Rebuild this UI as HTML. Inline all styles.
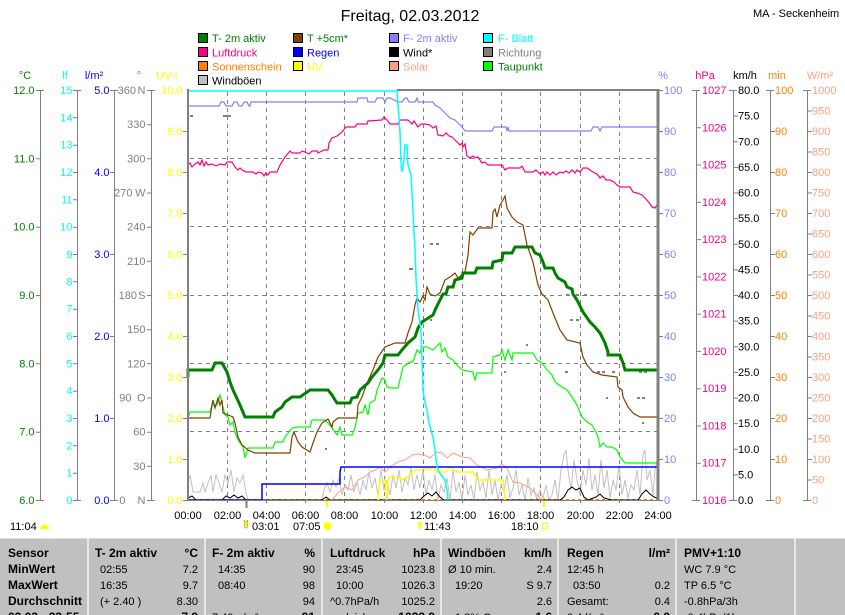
<!DOCTYPE html>
<html><head><meta charset="utf-8"><style>
html,body{margin:0;padding:0;background:#fff;}
svg{display:block;}
text{font-family:"Liberation Sans",sans-serif;font-size:11px;}
.b{font-weight:bold;font-size:12px;}
</style></head><body>
<svg width="845" height="615" viewBox="0 0 845 615" xmlns="http://www.w3.org/2000/svg">
<rect width="845" height="615" fill="#fff"/>
<!-- title -->
<text x="410" y="21" text-anchor="middle" style="font-size:16px">Freitag, 02.03.2012</text>
<text x="753" y="17">MA - Seckenheim</text>

<!-- legend -->
<g stroke="#000" stroke-width="1">
<rect x="198.5" y="33.5" width="9" height="9" fill="#008000"/>
<rect x="198.5" y="47.5" width="9" height="9" fill="#ff0080"/>
<rect x="198.5" y="61.5" width="9" height="9" fill="#ff8000"/>
<rect x="198.5" y="75.5" width="9" height="9" fill="#c0c0c0"/>
<rect x="293.5" y="33.5" width="9" height="9" fill="#804000"/>
<rect x="293.5" y="47.5" width="9" height="9" fill="#0000ff"/>
<rect x="293.5" y="61.5" width="9" height="9" fill="#ffff00"/>
<rect x="389.5" y="33.5" width="9" height="9" fill="#8080ff"/>
<rect x="389.5" y="47.5" width="9" height="9" fill="#000"/>
<rect x="389.5" y="61.5" width="9" height="9" fill="#ffa080"/>
<rect x="483.5" y="33.5" width="9" height="9" fill="#00ffff"/>
<rect x="483.5" y="47.5" width="9" height="9" fill="#808080"/>
<rect x="483.5" y="61.5" width="9" height="9" fill="#00ff00"/>
</g>
<text x="212" y="42" fill="#008000">T- 2m aktiv</text>
<text x="212" y="56.5" fill="#ff0080">Luftdruck</text>
<text x="212" y="70.5" fill="#ff8000">Sonnenschein</text>
<text x="212" y="84.5" fill="#000">Windböen</text>
<text x="307" y="42" fill="#008000">T +5cm*</text>
<text x="307" y="56.5" fill="#0000ff">Regen</text>
<text x="307" y="70.5" fill="#ffff00">UV</text>
<text x="403" y="42" fill="#8080ff">F- 2m aktiv</text>
<text x="403" y="56.5" fill="#000">Wind*</text>
<text x="403" y="70.5" fill="#ffa080">Solar</text>
<text x="498" y="42" fill="#00ffff">F- Blatt</text>
<text x="498" y="56.5" fill="#808080">Richtung</text>
<text x="498" y="70.5" fill="#008000">Taupunkt</text>

<!-- unit labels -->
<g text-anchor="middle">
<text x="25" y="79" fill="#008000">°C</text>
<text x="65" y="79" fill="#00ffff">lf</text>
<text x="94" y="79" fill="#0000ff">l/m²</text>
<text x="139" y="79" fill="#808080">°</text>
<text x="167" y="79" fill="#ffff00">UV-I</text>
<text x="663" y="79" fill="#8080ff">%</text>
<text x="705" y="79" fill="#ff0080">hPa</text>
<text x="745" y="79" fill="#000">km/h</text>
<text x="777" y="79" fill="#ff8000">min</text>
<text x="820" y="79" fill="#ffa080">W/m²</text>
</g>

<!-- axis lines -->
<g stroke="#808080" stroke-width="1" fill="none">
<path d="M40.5 90V500M36 90.5H44M36 500.5H44"/>
<path d="M77.5 90V500M73 90.5H81M73 500.5H81"/>
<path d="M114.5 90V500M110 90.5H118M110 500.5H118"/>
<path d="M151.5 90V500M147 90.5H155M147 500.5H155"/>
<path d="M696.5 90V500M692 90.5H700M692 500.5H700"/>
<path d="M733.5 90V500M729 90.5H737M729 500.5H737"/>
<path d="M770.5 90V500M766 90.5H774M766 500.5H774"/>
<path d="M807.5 90V500M803 90.5H811M803 500.5H811"/>
<!-- left ticks -->
<path d="M36 158.8H40M36 227.2H40M36 295.5H40M36 363.8H40M36 432.2H40"/>
<path d="M73 117.8H77M73 145.2H77M73 172.5H77M73 199.8H77M73 227.2H77M73 254.5H77M73 281.8H77M73 309.2H77M73 336.5H77M73 363.8H77M73 391.2H77M73 418.5H77M73 445.8H77M73 473.2H77"/>
<path d="M110 172.5H114M110 254.5H114M110 336.5H114M110 418.5H114"/>
<path d="M147 124.7H151M147 158.8H151M147 193H151M147 227.2H151M147 261.3H151M147 295.5H151M147 329.7H151M147 363.8H151M147 398H151M147 432.2H151M147 466.3H151"/>
<path d="M183 131.5H187M183 172.5H187M183 213.5H187M183 254.5H187M183 295.5H187M183 336.5H187M183 377.5H187M183 418.5H187M183 459.5H187M183 500.5H187"/>
<!-- right ticks -->
<path d="M659 90.5H663M659 131.5H663M659 172.5H663M659 213.5H663M659 254.5H663M659 295.5H663M659 336.5H663M659 377.5H663M659 418.5H663M659 459.5H663M659 500.5H663"/>
<path d="M697 127.8H701M697 165H701M697 202.3H701M697 239.6H701M697 276.9H701M697 314.1H701M697 351.4H701M697 388.7H701M697 426H701M697 463.2H701"/>
<path d="M734 116.1H738M734 141.8H738M734 167.4H738M734 193H738M734 218.6H738M734 244.3H738M734 269.9H738M734 295.5H738M734 321.1H738M734 346.8H738M734 372.4H738M734 398H738M734 423.6H738M734 449.3H738M734 474.9H738"/>
<path d="M771 131.5H775M771 172.5H775M771 213.5H775M771 254.5H775M771 295.5H775M771 336.5H775M771 377.5H775M771 418.5H775M771 459.5H775"/>
<path d="M808 111H812M808 131.5H812M808 152H812M808 172.5H812M808 193H812M808 213.5H812M808 234H812M808 254.5H812M808 275H812M808 295.5H812M808 316H812M808 336.5H812M808 357H812M808 377.5H812M808 398H812M808 418.5H812M808 439H812M808 459.5H812M808 480H812"/>
</g>

<!-- left axis labels -->
<g text-anchor="end" fill="#008000">
<text x="34.5" y="94">12.0</text><text x="34.5" y="162.3">11.0</text><text x="34.5" y="230.7">10.0</text><text x="34.5" y="299">9.0</text><text x="34.5" y="367.3">8.0</text><text x="34.5" y="435.7">7.0</text><text x="34.5" y="504">6.0</text>
</g>
<g text-anchor="end" fill="#00ffff">
<text x="72.5" y="94">15</text><text x="72.5" y="121.3">14</text><text x="72.5" y="148.7">13</text><text x="72.5" y="176">12</text><text x="72.5" y="203.3">11</text><text x="72.5" y="230.7">10</text><text x="72.5" y="258">9</text><text x="72.5" y="285.3">8</text><text x="72.5" y="312.7">7</text><text x="72.5" y="340">6</text><text x="72.5" y="367.3">5</text><text x="72.5" y="394.7">4</text><text x="72.5" y="422">3</text><text x="72.5" y="449.3">2</text><text x="72.5" y="476.7">1</text><text x="72.5" y="504">0</text>
</g>
<g text-anchor="end" fill="#0000ff">
<text x="109.5" y="94">5.0</text><text x="109.5" y="176">4.0</text><text x="109.5" y="258">3.0</text><text x="109.5" y="340">2.0</text><text x="109.5" y="422">1.0</text><text x="109.5" y="504">0.0</text>
</g>
<g text-anchor="end" fill="#808080">
<text x="136" y="94">360</text><text x="145.5" y="94">N</text>
<text x="145.5" y="128.2">330</text>
<text x="145.5" y="162.3">300</text>
<text x="132.5" y="196.5">270</text><text x="145.5" y="196.5">W</text>
<text x="145.5" y="230.7">240</text>
<text x="145.5" y="264.8">210</text>
<text x="137" y="299">180</text><text x="145.5" y="299">S</text>
<text x="145.5" y="333.2">150</text>
<text x="145.5" y="367.3">120</text>
<text x="131.5" y="401.5">90</text><text x="145.5" y="401.5">O</text>
<text x="145.5" y="435.7">60</text>
<text x="145.5" y="469.8">30</text>
<text x="125.5" y="504">0</text><text x="145.5" y="504">N</text>
</g>
<g text-anchor="end" fill="#ffff00">
<text x="182.5" y="94">10.0</text><text x="182.5" y="135">9.0</text><text x="182.5" y="176">8.0</text><text x="182.5" y="217">7.0</text><text x="182.5" y="258">6.0</text><text x="182.5" y="299">5.0</text><text x="182.5" y="340">4.0</text><text x="182.5" y="381">3.0</text><text x="182.5" y="422">2.0</text><text x="182.5" y="463">1.0</text><text x="182.5" y="504">0.0</text>
</g>
<!-- right axis labels -->
<g fill="#8080ff">
<text x="664" y="94">100</text><text x="664" y="135">90</text><text x="664" y="176">80</text><text x="664" y="217">70</text><text x="664" y="258">60</text><text x="664" y="299">50</text><text x="664" y="340">40</text><text x="664" y="381">30</text><text x="664" y="422">20</text><text x="664" y="463">10</text><text x="664" y="504">0</text>
</g>
<g fill="#ff0080">
<text x="702" y="94">1027</text><text x="702" y="131.3">1026</text><text x="702" y="168.5">1025</text><text x="702" y="205.8">1024</text><text x="702" y="243.1">1023</text><text x="702" y="280.4">1022</text><text x="702" y="317.6">1021</text><text x="702" y="354.9">1020</text><text x="702" y="392.2">1019</text><text x="702" y="429.5">1018</text><text x="702" y="466.7">1017</text><text x="702" y="504">1016</text>
</g>
<g fill="#000">
<text x="738" y="94">80.0</text><text x="738" y="119.6">75.0</text><text x="738" y="145.3">70.0</text><text x="738" y="170.9">65.0</text><text x="738" y="196.5">60.0</text><text x="738" y="222.1">55.0</text><text x="738" y="247.8">50.0</text><text x="738" y="273.4">45.0</text><text x="738" y="299">40.0</text><text x="738" y="324.6">35.0</text><text x="738" y="350.3">30.0</text><text x="738" y="375.9">25.0</text><text x="738" y="401.5">20.0</text><text x="738" y="427.1">15.0</text><text x="738" y="452.8">10.0</text><text x="738" y="478.4">5.0</text><text x="738" y="504">0.0</text>
</g>
<g fill="#ff8000">
<text x="775" y="94">100</text><text x="775" y="135">90</text><text x="775" y="176">80</text><text x="775" y="217">70</text><text x="775" y="258">60</text><text x="775" y="299">50</text><text x="775" y="340">40</text><text x="775" y="381">30</text><text x="775" y="422">20</text><text x="775" y="463">10</text><text x="775" y="504">0</text>
</g>
<g fill="#ffa080">
<text x="812" y="94">1000</text><text x="812" y="114.5">950</text><text x="812" y="135">900</text><text x="812" y="155.5">850</text><text x="812" y="176">800</text><text x="812" y="196.5">750</text><text x="812" y="217">700</text><text x="812" y="237.5">650</text><text x="812" y="258">600</text><text x="812" y="278.5">550</text><text x="812" y="299">500</text><text x="812" y="319.5">450</text><text x="812" y="340">400</text><text x="812" y="360.5">350</text><text x="812" y="381">300</text><text x="812" y="401.5">250</text><text x="812" y="422">200</text><text x="812" y="442.5">150</text><text x="812" y="463">100</text><text x="812" y="483.5">50</text><text x="812" y="504">0</text>
</g>

<!-- grid -->
<g stroke="#808080" stroke-width="1" stroke-dasharray="4,4" fill="none">
<path d="M227.5 92V500M266.5 92V500M305.5 92V500M344.5 92V500M384.5 92V500M423.5 92V500M462.5 92V500M501.5 92V500M540.5 92V500M580.5 92V500M619.5 92V500"/>
<path d="M190 158.5H657M190 226.5H657M190 295.5H657M190 363.5H657M190 431.5H657"/>
</g>
<!-- bottom ticks -->
<g stroke="#808080" stroke-width="1">
<path d="M227.5 500V503M266.5 500V503M305.5 500V503M344.5 500V503M384.5 500V503M423.5 500V503M462.5 500V503M501.5 500V503M540.5 500V503M580.5 500V503M619.5 500V503"/>
<path d="M246.5 500V508" stroke-width="2"/>
</g>
<path d="M327 497V507M544 497V507" stroke="#ffff00" stroke-width="2"/>

<!-- Richtung dots -->
<g fill="#808080">
<rect x="190" y="115" width="3" height="2"/><rect x="223" y="115" width="8" height="2"/>
<rect x="409" y="268" width="4" height="2"/><rect x="430" y="243" width="3" height="2"/><rect x="436" y="243" width="3" height="2"/>
<rect x="325" y="448" width="2" height="2"/><rect x="430" y="319" width="2" height="2"/>
<rect x="566" y="294" width="3" height="2"/><rect x="576" y="294" width="3" height="2"/><rect x="584" y="294" width="3" height="2"/>
<rect x="570" y="319" width="3" height="2"/><rect x="576" y="319" width="3" height="2"/>
<rect x="526" y="344" width="2" height="2"/><rect x="504" y="371" width="2" height="2"/>
<rect x="565" y="371" width="3" height="2"/><rect x="597" y="371" width="3" height="2"/><rect x="602" y="371" width="3" height="2"/><rect x="612" y="371" width="3" height="2"/>
<rect x="639" y="371" width="3" height="2"/><rect x="644" y="371" width="3" height="2"/>
<rect x="606" y="397" width="2" height="2"/><rect x="637" y="397" width="3" height="2"/><rect x="642" y="397" width="3" height="2"/><rect x="642" y="422" width="2" height="2"/>
</g>

<!-- Series -->
<g fill="none" stroke-linejoin="miter">
<!-- Windboeen gray -->
<polyline stroke="#c0c0c0" stroke-width="1" points="188,483 190,475 193,492 197,492 200,492 203,483 205,492 208,483 211,475 213,492 216,475 219,483 222,492 225,475 228,483 231,470 234,492 237,478 240,483 243,475 246,492 248,500 322,500 324,490 327,483 330,492 333,480 336,487 339,478 342,495 345,485 348,490 351,475 354,492 357,482 360,495 363,480 366,490 369,472 372,488 375,478 378,495 381,470 384,490 387,480 390,495 393,475 396,488 399,470 402,492 405,478 408,485 411,468 414,490 417,475 420,488 423,470 426,495 429,480 432,490 435,475 438,500 441,485 444,492 447,478 450,500 453,470 456,492 459,482 462,500 465,475 468,495 471,485 474,500 477,472 480,490 483,482 486,498 489,470 492,495 495,480 498,500 501,485 504,492 507,475 510,498 513,488 516,470 519,495 522,485 525,500 528,478 531,495 534,488 537,500 540,490 543,498 546,485 549,500 552,495 555,480 558,500 561,470 564,455 566,450 568,470 571,490 574,460 577,480 580,495 583,470 586,485 589,458 592,490 595,475 598,495 601,460 604,488 607,470 610,498 613,480 616,490 619,465 622,495 625,480 628,498 631,485 634,490 637,470 640,495 643,455 645,450 647,480 650,470 653,495 655,470 657,460"/>
<!-- Sonnenschein -->
<path d="M188 499.5H657" stroke="#ff8000" stroke-width="1" stroke-dasharray="3,3"/>
<!-- Wind black -->
<polyline stroke="#000" stroke-width="1" points="188,498 192,496 196,500 222,500 226,496 230,498 234,495 238,498 242,496 246,500 322,500 326,497 330,500 420,500 424,496 428,493 432,496 436,492 440,497 444,500 560,500 564,497 568,490 572,487 576,490 580,488 584,497 588,500 596,497 600,494 604,498 612,500 638,500 642,494 646,490 650,494 654,497 657,498"/>
<!-- Solar -->
<polyline stroke="#ffa080" stroke-width="1" points="332,500 338,493 345,487 352,490 358,480 365,477 370,472 375,470 380,467 385,472 390,467 398,462 405,460 412,455 418,454 425,455 430,458 437,452 442,453 447,458 453,453 462,457 470,458 477,465 487,470 497,468 502,464 507,468 513,482 520,483 530,488 537,495 543,500"/>
<!-- UV -->
<polyline stroke="#ffff00" stroke-width="1.5" points="378,500 380,480 385,480 387,500 388,480 390,477 398,477 402,480 405,478 408,477 412,472 415,470 420,470 425,468 430,470 433,467 437,472 445,472 450,467 457,472 473,472 478,480 503,480 505,500"/>
<!-- Regen -->
<polyline stroke="#0000ff" stroke-width="1.5" points="188,500 262,500 262,484 340,484 340,472 341,467 657,467"/>
<!-- Taupunkt -->
<polyline stroke="#00ff00" stroke-width="1.2" points="188,418 190,412 210,412 212,405 217,405 220,395 222,403 225,415 228,417 230,425 233,422 235,432 238,440 243,447 245,458 248,448 273,448 275,442 283,442 285,437 292,428 298,427 310,427 312,420 325,420 328,423 332,428 337,435 340,427 342,435 352,435 355,428 358,413 363,412 365,405 368,415 370,403 375,400 377,390 382,378 385,380 387,387 390,388 398,388 403,367 410,362 413,362 417,350 420,353 422,347 427,347 433,350 440,343 442,352 445,348 448,357 453,360 457,365 462,370 473,372 475,380 477,373 492,373 493,357 500,355 502,350 505,360 508,350 512,360 513,353 533,353 537,360 542,363 547,370 552,375 555,382 562,387 567,390 572,397 577,405 582,417 587,422 592,425 595,430 598,437 600,447 603,443 607,447 612,447 617,450 620,457 625,463 657,463"/>
<!-- T +5cm -->
<polyline stroke="#804000" stroke-width="1.2" points="188,418 210,418 212,405 213,400 215,408 218,398 220,405 222,400 223,413 233,417 235,423 238,437 242,445 248,450 255,453 290,453 292,437 294,432 298,442 302,447 310,452 313,443 317,432 322,423 328,419 332,427 333,422 338,418 357,418 358,405 362,397 367,383 373,370 378,357 385,347 395,343 405,343 408,333 412,322 415,305 417,298 420,302 423,296 425,300 427,287 430,294 435,296 440,293 445,280 450,277 455,273 458,278 462,275 465,272 468,255 470,232 473,235 478,228 492,228 493,212 495,209 497,217 500,205 503,200 505,196 507,208 512,217 517,222 523,225 527,245 533,262 538,285 542,294 548,300 555,318 560,330 567,340 580,343 583,357 587,365 593,372 602,375 617,377 618,387 622,390 623,397 628,407 633,413 640,417 657,417"/>
<!-- T-2m -->
<polyline stroke="#008000" stroke-width="3" points="188,377 188,370 212,370 215,363 222,363 227,372 230,382 233,390 240,405 245,417 273,417 275,412 282,407 285,402 292,397 300,397 310,390 328,390 332,395 335,400 337,403 350,403 352,398 357,397 360,390 368,383 372,377 378,370 383,363 385,355 398,355 402,350 408,343 415,337 418,328 422,322 433,315 436,308 439,302 443,294 446,294 448,287 453,287 455,280 462,278 463,273 475,273 477,268 492,268 493,262 502,260 503,253 512,253 515,247 532,247 535,253 540,255 543,262 545,268 553,268 555,273 558,278 565,282 567,287 572,289 573,294 577,300 583,312 590,322 595,327 600,333 605,343 608,352 608,355 620,355 623,363 625,370 657,370"/>
<!-- Luftdruck -->
<polyline stroke="#ff0080" stroke-width="1.2" points="188,165 190,163 192,167 195,164 198,162 200,165 202,160 204,166 206,162 208,165 212,164 216,166 220,164 225,165 227,162 232,162 235,167 238,170 240,168 242,170 246,172 253,172 256,174 258,172 262,173 264,176 266,173 268,175 270,172 277,172 280,165 285,157 290,151 292,153 300,153 302,151 305,152 309,154 312,151 317,151 318,153 320,152 324,150 328,150 329,143 332,138 337,136 342,132 346,127 355,127 357,124 367,124 368,121 382,120 384,117 387,120 390,124 398,124 400,120 408,120 412,124 414,121 418,127 421,124 425,124 430,125 433,128 436,126 438,135 443,136 446,133 449,136 452,137 455,140 460,145 462,143 463,147 465,144 467,156 470,158 473,156 475,158 478,157 482,163 485,162 488,165 502,165 505,170 508,168 520,168 522,166 525,172 533,172 536,170 540,174 543,172 545,175 547,172 550,175 553,172 556,175 560,172 563,173 566,171 569,173 572,170 575,173 577,170 580,172 583,168 587,168 590,170 593,172 597,174 600,178 603,176 606,180 610,180 614,182 617,185 620,187 630,187 633,192 637,193 642,195 645,198 647,200 650,204 652,207 655,208 657,205"/>
<!-- F-2m -->
<polyline stroke="#8080ff" stroke-width="1.2" points="188,106 219,106 221,102 224,102 226,106 232,106 234,102 237,102 239,106 242,106 244,102 247,102 249,106 250,106 251,102 357,102 358,98 367,98 368,102 375,102 377,98 383,98 385,102 387,98 390,98 398,102 402,102 405,98 407,98 409,102 415,102 417,98 418,102 433,102 435,105 440,108 445,113 450,118 455,120 458,123 462,127 465,131 492,131 494,127 506,127 507,131 508,127 509,131 591,131 593,127 598,127 600,131 602,127 657,127"/>
<!-- F-Blatt -->
<polyline stroke="#00ffff" stroke-width="1.5" points="188,91 397,91 400,132 401,163 402,172 404,160 405,145 407,145 408,165 411,175 412,192 413,212 414,232 415,248 416,278 417,295 418,310 421,330 423,390 425,403 427,410 429,423 433,437 435,450 437,467 439,472 445,480 447,490 448,500"/>
</g>

<!-- frame -->
<g stroke="#808080" fill="none">
<path d="M397 90H658" stroke-width="2"/>
<path d="M188 89V501" stroke-width="2"/>
<path d="M658 89V501" stroke-width="3"/>
<path d="M188 500.5H658" stroke-width="1"/>
</g>

<!-- time labels -->
<g text-anchor="middle" fill="#000">
<text x="188" y="519">00:00</text><text x="227.5" y="519">02:00</text><text x="266.5" y="519">04:00</text><text x="305.5" y="519">06:00</text><text x="344.5" y="519">08:00</text><text x="384.5" y="519">10:00</text><text x="423.5" y="519">12:00</text><text x="462.5" y="519">14:00</text><text x="501.5" y="519">16:00</text><text x="540.5" y="519">18:00</text><text x="580.5" y="519">20:00</text><text x="619.5" y="519">22:00</text><text x="658" y="519">24:00</text>
</g>
<text x="10" y="530">11:04</text>
<path d="M40 529A4.5 4.5 0 0 1 49 529Z" fill="#ffff00"/>
<text x="252" y="530">03:01</text>
<path d="M244 520L246 522 248 520 247 528 245 528Z" fill="#ffff00" stroke="#808000" stroke-width="0.5"/>
<text x="293" y="530">07:05</text>
<circle cx="327.5" cy="526" r="4" fill="#ffff00"/>
<text x="424" y="530">11:43</text>
<path d="M418 522L422 522 421 529 419 529Z" fill="#ffff00"/>
<text x="511" y="530">18:10</text>
<rect x="542.5" y="523.5" width="5" height="5" fill="none" stroke="#ffff00"/>

<!-- table -->
<rect x="0" y="538" width="845" height="77" fill="#c0c0c0"/>
<path d="M0 538.5H845" stroke="#e0e0e0" stroke-width="1"/>
<g stroke="#f4f4f4" stroke-width="1.5">
<path d="M88 538V615M205 538V615M322 538V615M441 538V615M558 538V615M676 538V615M795 538V615"/>
</g>
<g fill="#000">
<text class="b" x="8" y="557">Sensor</text>
<text class="b" x="8" y="573">MinWert</text>
<text class="b" x="8" y="589">MaxWert</text>
<text class="b" x="8" y="605">Durchschnitt</text>
<text class="b" x="8" y="621">02.03 - 23:55</text>

<text class="b" x="95" y="557">T- 2m aktiv</text>
<text class="b" x="198" y="557" text-anchor="end">°C</text>
<text x="100" y="573">02:55</text><text x="198" y="573" text-anchor="end">7.2</text>
<text x="100" y="589">16:35</text><text x="198" y="589" text-anchor="end">9.7</text>
<text x="100" y="605">(+ 2.40 )</text><text x="198" y="605" text-anchor="end">8.30</text>
<text class="b" x="198" y="621" text-anchor="end">7.9</text>

<text class="b" x="212" y="557">F- 2m aktiv</text>
<text class="b" x="315" y="557" text-anchor="end">%</text>
<text x="218" y="573">14:35</text><text x="315" y="573" text-anchor="end">90</text>
<text x="218" y="589">08:40</text><text x="315" y="589" text-anchor="end">98</text>
<text x="315" y="605" text-anchor="end">94</text>
<text x="212" y="621">7.40 g/m³</text><text class="b" x="315" y="621" text-anchor="end">91</text>

<text class="b" x="330" y="557">Luftdruck</text>
<text class="b" x="435" y="557" text-anchor="end">hPa</text>
<text x="336" y="573">23:45</text><text x="435" y="573" text-anchor="end">1023.8</text>
<text x="336" y="589">10:00</text><text x="435" y="589" text-anchor="end">1026.3</text>
<text x="330" y="605">^0.7hPa/h</text><text x="435" y="605" text-anchor="end">1025.2</text>
<text x="340" y="621">gleich</text><text class="b" x="435" y="621" text-anchor="end">1023.9</text>

<text class="b" x="448" y="557">Windböen</text>
<text class="b" x="552" y="557" text-anchor="end">km/h</text>
<text x="448" y="573">Ø 10 min.</text><text x="552" y="573" text-anchor="end">2.4</text>
<text x="455" y="589">19:20</text><text x="552" y="589" text-anchor="end">S 9.7</text>
<text x="552" y="605" text-anchor="end">2.6</text>
<text x="455" y="621">1.8% O</text><text class="b" x="552" y="621" text-anchor="end">1.6</text>

<text class="b" x="567" y="557">Regen</text>
<text class="b" x="670" y="557" text-anchor="end">l/m²</text>
<text x="567" y="573">12:45 h</text>
<text x="573" y="589">03:50</text><text x="670" y="589" text-anchor="end">0.2</text>
<text x="567" y="605">Gesamt:</text><text x="670" y="605" text-anchor="end">0.4</text>
<text x="567" y="621">0.4 l/m²</text><text class="b" x="670" y="621" text-anchor="end">0.0</text>

<text class="b" x="684" y="557">PMV+1:10</text>
<text x="684" y="573">WC 7.9 °C</text>
<text x="684" y="589">TP 6.5 °C</text>
<text x="684" y="605">-0.8hPa/3h</text>
<text x="684" y="621">-0.4hPa/1h</text>
</g>
</svg>
</body></html>
